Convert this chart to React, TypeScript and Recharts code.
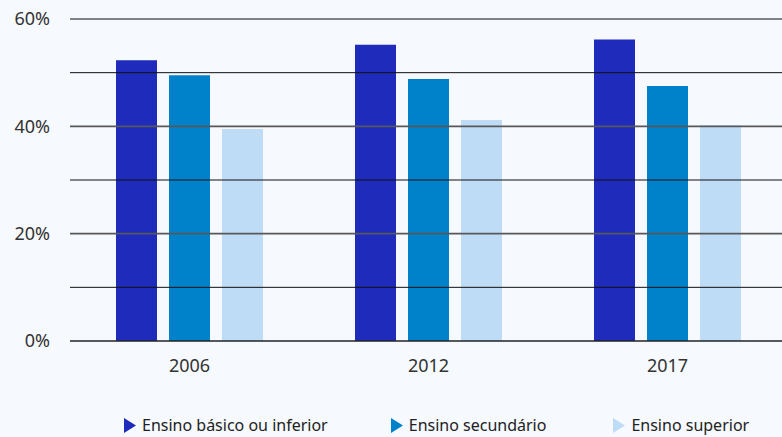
import React from 'react';
import { BarChart, Bar, XAxis, YAxis, ReferenceLine } from 'recharts';

const years = ['2006', '2012', '2017'];
const basico = [52.3, 55.2, 56.2];
const secundario = [49.5, 48.8, 47.5];
const superior = [39.5, 41.2, 40.2];
const yTicks = [0, 20, 40, 60];
const gridValues = [10, 20, 30, 40, 50, 60];

const seriesNames = ['Ensino básico ou inferior', 'Ensino secundário', 'Ensino superior'];
const seriesColors = ['#1f2bbb', '#0082cb', '#bfdcf7'];

const data = years.map((y, i) => ({
  year: y,
  basico: basico[i],
  secundario: secundario[i],
  superior: superior[i],
}));

const FONT = '"Noto Sans", "Open Sans", sans-serif';

const LegendContent = () => (
  <div
    style={{
      position: 'absolute',
      top: 416,
      left: 124,
      display: 'flex',
      whiteSpace: 'nowrap',
      fontFamily: FONT,
      fontSize: 16,
      lineHeight: '18px',
      color: '#222',
    }}
  >
    {seriesNames.map((n, i) => (
      <div key={n} style={{ display: 'flex', alignItems: 'center', marginRight: i === 0 ? 63 : 67 }}>
        <svg width={12} height={15} style={{ marginRight: 6 }}>
          <polygon points="0,0 12,7.5 0,15" fill={seriesColors[i]} />
        </svg>
        <span>{n}</span>
      </div>
    ))}
  </div>
);

export default function App() {
  return (
    <div style={{ position: 'absolute', left: 0, top: 0, width: 782, height: 437, overflow: 'hidden', background: '#f6f9fd' }}>
      <BarChart
        width={790}
        height={437}
        data={data}
        margin={{ top: 19, right: 3, left: 10, bottom: 66 }}
        barSize={41}
        barGap={12}
      >
        {gridValues.map((v) => (
          <ReferenceLine
            key={v}
            y={v}
            stroke={v % 20 === 0 ? '#585858' : '#111'}
            strokeWidth={v % 20 === 0 ? 1.6 : 1}
          />
        ))}
        <XAxis
          dataKey="year"
          height={30}
          axisLine={{ stroke: '#222', strokeWidth: 1.5 }}
          tickLine={false}
          tickMargin={12}
          tick={{ fill: '#333', fontSize: 18, fontFamily: FONT }}
        />
        <YAxis
          width={60}
          domain={[0, 60]}
          ticks={yTicks}
          axisLine={false}
          tickLine={false}
          tickMargin={14}
          tickFormatter={(v) => `${v}%`}
          tick={{ fill: '#333', fontSize: 18, fontFamily: FONT }}
        />
        <Bar dataKey="basico" name={seriesNames[0]} fill={seriesColors[0]} isAnimationActive={false} />
        <Bar dataKey="secundario" name={seriesNames[1]} fill={seriesColors[1]} isAnimationActive={false} />
        <Bar dataKey="superior" name={seriesNames[2]} fill={seriesColors[2]} isAnimationActive={false} />
      </BarChart>
      <LegendContent />
    </div>
  );
}
